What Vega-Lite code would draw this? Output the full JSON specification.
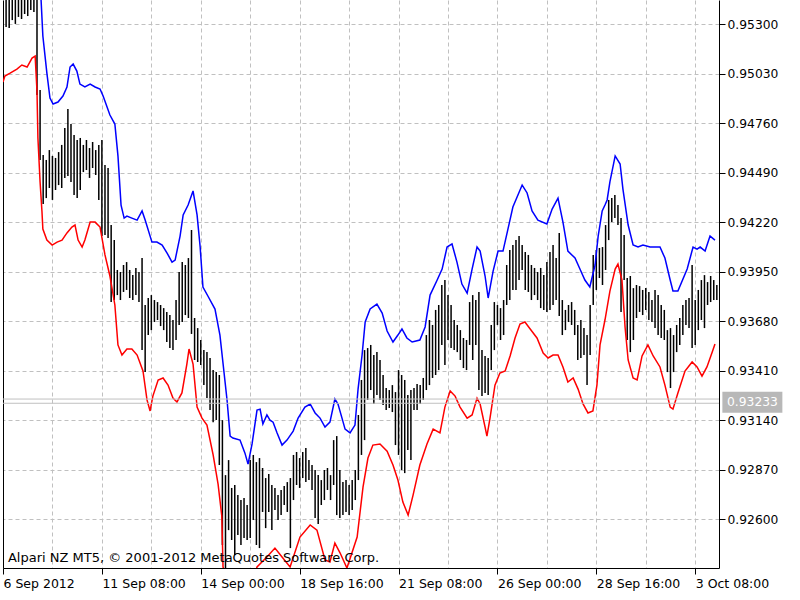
{
"$schema":"https://vega.github.io/schema/vega-lite/v6.json",
"width":716,"height":568,"autosize":"none",
"padding":{"left":3,"top":0,"right":81,"bottom":32},
"background":"white",
"config":{"view":{"stroke":null},"font":"DejaVu Sans"},
"datasets":{
"bars":[
{"k":1,"h":0.95487,"l":0.95285},{"k":2,"h":0.95460,"l":0.95280},{"k":3,"h":0.95476,"l":0.95323},{"k":4,"h":0.95449,"l":0.95302},{"k":5,"h":0.95465,"l":0.95340},{"k":6,"h":0.95454,"l":0.95329},{"k":7,"h":0.95487,"l":0.95356},{"k":8,"h":0.95476,"l":0.95345},{"k":9,"h":0.95498,"l":0.95378},{"k":10,"h":0.95514,"l":0.95367},
{"k":11,"h":0.95460,"l":0.94914},{"k":12,"h":0.94942,"l":0.94560},{"k":13,"h":0.94587,"l":0.94320},{"k":14,"h":0.94560,"l":0.94352},{"k":15,"h":0.94614,"l":0.94407},{"k":16,"h":0.94582,"l":0.94342},{"k":17,"h":0.94571,"l":0.94396},{"k":18,"h":0.94603,"l":0.94423},{"k":19,"h":0.94642,"l":0.94407},{"k":20,"h":0.94734,"l":0.94462},
{"k":21,"h":0.94838,"l":0.94472},{"k":22,"h":0.94756,"l":0.94440},{"k":23,"h":0.94696,"l":0.94369},{"k":24,"h":0.94669,"l":0.94352},{"k":25,"h":0.94680,"l":0.94396},{"k":26,"h":0.94642,"l":0.94494},{"k":27,"h":0.94669,"l":0.94505},{"k":28,"h":0.94625,"l":0.94462},{"k":29,"h":0.94658,"l":0.94516},{"k":30,"h":0.94614,"l":0.94478},
{"k":31,"h":0.94642,"l":0.94342},{"k":32,"h":0.94669,"l":0.94145},{"k":33,"h":0.94532,"l":0.94151},{"k":34,"h":0.94516,"l":0.94134},{"k":35,"h":0.94205,"l":0.93785},{"k":36,"h":0.94123,"l":0.93796},{"k":37,"h":0.93960,"l":0.93823},{"k":38,"h":0.93949,"l":0.93796},{"k":39,"h":0.93987,"l":0.93840},{"k":40,"h":0.94003,"l":0.93851},
{"k":41,"h":0.93960,"l":0.93807},{"k":42,"h":0.93932,"l":0.93796},{"k":43,"h":0.93971,"l":0.93823},{"k":44,"h":0.93949,"l":0.93785},{"k":45,"h":0.94025,"l":0.93523},{"k":46,"h":0.93769,"l":0.93403},{"k":47,"h":0.93807,"l":0.93605},{"k":48,"h":0.93823,"l":0.93632},{"k":49,"h":0.93796,"l":0.93676},{"k":50,"h":0.93785,"l":0.93687},
{"k":51,"h":0.93769,"l":0.93654},{"k":52,"h":0.93752,"l":0.93632},{"k":53,"h":0.93731,"l":0.93567},{"k":54,"h":0.93714,"l":0.93534},{"k":55,"h":0.93687,"l":0.93523},{"k":56,"h":0.93796,"l":0.93578},{"k":57,"h":0.93949,"l":0.93660},{"k":58,"h":0.94003,"l":0.93676},{"k":59,"h":0.93987,"l":0.93714},{"k":60,"h":0.94025,"l":0.93698},
{"k":61,"h":0.94178,"l":0.93611},{"k":62,"h":0.93698,"l":0.93469},{"k":63,"h":0.93643,"l":0.93458},{"k":64,"h":0.93578,"l":0.93441},{"k":65,"h":0.93523,"l":0.93332},{"k":66,"h":0.93512,"l":0.93261},{"k":67,"h":0.93480,"l":0.93196},{"k":68,"h":0.93414,"l":0.93130},{"k":69,"h":0.93403,"l":0.93141},{"k":70,"h":0.93387,"l":0.92896},
{"k":71,"h":0.93141,"l":0.92460},{"k":72,"h":0.92841,"l":0.92323},{"k":73,"h":0.92923,"l":0.92541},{"k":74,"h":0.92771,"l":0.92487},{"k":75,"h":0.92787,"l":0.92405},{"k":76,"h":0.92732,"l":0.92514},{"k":77,"h":0.92705,"l":0.92460},{"k":78,"h":0.92716,"l":0.92498},{"k":79,"h":0.92678,"l":0.92487},{"k":80,"h":0.92923,"l":0.92498},
{"k":81,"h":0.92951,"l":0.92596},{"k":82,"h":0.92912,"l":0.92460},{"k":83,"h":0.92934,"l":0.92443},{"k":84,"h":0.92880,"l":0.92640},{"k":85,"h":0.92825,"l":0.92552},{"k":86,"h":0.92847,"l":0.92640},{"k":87,"h":0.92787,"l":0.92541},{"k":88,"h":0.92771,"l":0.92651},{"k":89,"h":0.92732,"l":0.92596},{"k":90,"h":0.92760,"l":0.92623},
{"k":91,"h":0.92781,"l":0.92678},{"k":92,"h":0.92803,"l":0.92640},{"k":93,"h":0.92825,"l":0.92443},{"k":94,"h":0.92951,"l":0.92705},{"k":95,"h":0.92967,"l":0.92787},{"k":96,"h":0.92934,"l":0.92771},{"k":97,"h":0.92967,"l":0.92825},{"k":98,"h":0.92989,"l":0.92803},{"k":99,"h":0.92923,"l":0.92814},{"k":100,"h":0.92896,"l":0.92760},
{"k":101,"h":0.92869,"l":0.92607},{"k":102,"h":0.92841,"l":0.92574},{"k":103,"h":0.92814,"l":0.92678},{"k":104,"h":0.92869,"l":0.92705},{"k":105,"h":0.92880,"l":0.92760},{"k":106,"h":0.92841,"l":0.92705},{"k":107,"h":0.93032,"l":0.92787},{"k":108,"h":0.93054,"l":0.92623},{"k":109,"h":0.92869,"l":0.92607},{"k":110,"h":0.92803,"l":0.92623},
{"k":111,"h":0.92814,"l":0.92640},{"k":112,"h":0.92787,"l":0.92623},{"k":113,"h":0.92814,"l":0.92651},{"k":114,"h":0.92869,"l":0.92705},{"k":115,"h":0.93169,"l":0.92814},{"k":116,"h":0.93360,"l":0.92951},{"k":117,"h":0.93523,"l":0.93032},{"k":118,"h":0.93534,"l":0.93251},{"k":119,"h":0.93551,"l":0.93305},{"k":120,"h":0.93496,"l":0.93229},
{"k":121,"h":0.93512,"l":0.93278},{"k":122,"h":0.93469,"l":0.93251},{"k":123,"h":0.93387,"l":0.93223},{"k":124,"h":0.93316,"l":0.93196},{"k":125,"h":0.93305,"l":0.93207},{"k":126,"h":0.93332,"l":0.93185},{"k":127,"h":0.93294,"l":0.93005},{"k":128,"h":0.93414,"l":0.92951},{"k":129,"h":0.93387,"l":0.92869},{"k":130,"h":0.93360,"l":0.92852},
{"k":131,"h":0.93278,"l":0.92978},{"k":132,"h":0.93305,"l":0.92923},{"k":133,"h":0.93316,"l":0.93196},{"k":134,"h":0.93338,"l":0.93196},{"k":135,"h":0.93332,"l":0.93229},{"k":136,"h":0.93371,"l":0.93251},{"k":137,"h":0.93605,"l":0.93305},{"k":138,"h":0.93687,"l":0.93332},{"k":139,"h":0.93660,"l":0.93371},{"k":140,"h":0.93742,"l":0.93387},
{"k":141,"h":0.93769,"l":0.93414},{"k":142,"h":0.93878,"l":0.93551},{"k":143,"h":0.93905,"l":0.93441},{"k":144,"h":0.93823,"l":0.93578},{"k":145,"h":0.93769,"l":0.93534},{"k":146,"h":0.93687,"l":0.93523},{"k":147,"h":0.93660,"l":0.93512},{"k":148,"h":0.93632,"l":0.93469},{"k":149,"h":0.93589,"l":0.93425},{"k":150,"h":0.93578,"l":0.93414},
{"k":151,"h":0.93785,"l":0.93551},{"k":152,"h":0.93823,"l":0.93469},{"k":153,"h":0.93796,"l":0.93551},{"k":154,"h":0.93840,"l":0.93305},{"k":155,"h":0.93523,"l":0.93272},{"k":156,"h":0.93491,"l":0.93289},{"k":157,"h":0.93480,"l":0.93278},{"k":158,"h":0.93660,"l":0.93414},{"k":159,"h":0.93785,"l":0.93523},{"k":160,"h":0.93769,"l":0.93660},
{"k":161,"h":0.93752,"l":0.93578},{"k":162,"h":0.93796,"l":0.93605},{"k":163,"h":0.93987,"l":0.93769},{"k":164,"h":0.94069,"l":0.93796},{"k":165,"h":0.94096,"l":0.93851},{"k":166,"h":0.94123,"l":0.93851},{"k":167,"h":0.94145,"l":0.93905},{"k":168,"h":0.94096,"l":0.93960},{"k":169,"h":0.94058,"l":0.93851},{"k":170,"h":0.94042,"l":0.93840},
{"k":171,"h":0.93987,"l":0.93796},{"k":172,"h":0.93971,"l":0.93823},{"k":173,"h":0.93949,"l":0.93796},{"k":174,"h":0.93971,"l":0.93752},{"k":175,"h":0.93932,"l":0.93742},{"k":176,"h":0.94003,"l":0.93731},{"k":177,"h":0.94058,"l":0.93742},{"k":178,"h":0.94096,"l":0.93769},{"k":179,"h":0.94025,"l":0.93796},{"k":180,"h":0.94162,"l":0.93709},
{"k":181,"h":0.93796,"l":0.93605},{"k":182,"h":0.93742,"l":0.93632},{"k":183,"h":0.93769,"l":0.93676},{"k":184,"h":0.93785,"l":0.93660},{"k":185,"h":0.93742,"l":0.93605},{"k":186,"h":0.93660,"l":0.93469},{"k":187,"h":0.93687,"l":0.93480},{"k":188,"h":0.93643,"l":0.93496},{"k":189,"h":0.93605,"l":0.93332},{"k":190,"h":0.93769,"l":0.93496},
{"k":191,"h":0.94042,"l":0.93769},{"k":192,"h":0.94069,"l":0.93851},{"k":193,"h":0.94080,"l":0.93916},{"k":194,"h":0.94085,"l":0.93878},{"k":195,"h":0.94205,"l":0.93960},{"k":196,"h":0.94342,"l":0.94123},{"k":197,"h":0.94352,"l":0.94221},{"k":198,"h":0.94369,"l":0.94243},{"k":199,"h":0.94314,"l":0.94205},{"k":200,"h":0.94243,"l":0.93731},
{"k":201,"h":0.94151,"l":0.93905},{"k":202,"h":0.93916,"l":0.93578},{"k":203,"h":0.93927,"l":0.93512},{"k":204,"h":0.93861,"l":0.93578},{"k":205,"h":0.93878,"l":0.93698},{"k":206,"h":0.93872,"l":0.93731},{"k":207,"h":0.93851,"l":0.93714},{"k":208,"h":0.93861,"l":0.93742},{"k":209,"h":0.93840,"l":0.93687},{"k":210,"h":0.93796,"l":0.93676},
{"k":211,"h":0.93851,"l":0.93643},{"k":212,"h":0.93823,"l":0.93605},{"k":213,"h":0.93769,"l":0.93589},{"k":214,"h":0.93742,"l":0.93578},{"k":215,"h":0.93632,"l":0.93403},{"k":216,"h":0.93643,"l":0.93316},{"k":217,"h":0.93605,"l":0.93403},{"k":218,"h":0.93660,"l":0.93512},{"k":219,"h":0.93698,"l":0.93551},{"k":220,"h":0.93769,"l":0.93605},
{"k":221,"h":0.93796,"l":0.93660},{"k":222,"h":0.93807,"l":0.93643},{"k":223,"h":0.93987,"l":0.93534},{"k":224,"h":0.93796,"l":0.93551},{"k":225,"h":0.93851,"l":0.93632},{"k":226,"h":0.93905,"l":0.93687},{"k":227,"h":0.93932,"l":0.93643},{"k":228,"h":0.93894,"l":0.93769},{"k":229,"h":0.93927,"l":0.93785},{"k":230,"h":0.93905,"l":0.93796},{"k":231,"h":0.93878,"l":0.93796}
],
"upper":[
{"k":12.0,"p":0.95542},{"k":12.9,"p":0.95236},{"k":14.2,"p":0.95034},{"k":15.2,"p":0.94898},{"k":16.2,"p":0.94865},{"k":17.8,"p":0.94876},{"k":19.4,"p":0.94909},{"k":20.7,"p":0.94958},{"k":21.7,"p":0.95067},{"k":22.7,"p":0.95083},{"k":23.9,"p":0.95045},{"k":24.9,"p":0.94974},{"k":26.5,"p":0.94958},{"k":28.2,"p":0.94974},{"k":29.8,"p":0.94958},{"k":31.4,"p":0.94947},{"k":32.4,"p":0.94909},{"k":34.6,"p":0.94805},{"k":36.2,"p":0.94756},{"k":37.2,"p":0.94582},{"k":38.2,"p":0.94314},{"k":39.2,"p":0.94243},{"k":40.1,"p":0.94254},{"k":41.7,"p":0.94243},{"k":43.4,"p":0.94232},{"k":45.0,"p":0.94282},{"k":46.0,"p":0.94232},{"k":48.2,"p":0.94112},{"k":49.8,"p":0.94112},{"k":51.5,"p":0.94096},{"k":53.1,"p":0.94052},{"k":54.7,"p":0.94003},{"k":55.7,"p":0.94014},{"k":57.3,"p":0.94145},{"k":58.3,"p":0.94260},{"k":59.9,"p":0.94314},{"k":61.5,"p":0.94391},{"k":62.8,"p":0.94260},{"k":63.8,"p":0.94085},{"k":64.7,"p":0.93867},{"k":66.3,"p":0.93818},{"k":68.6,"p":0.93747},{"k":70.2,"p":0.93605},{"k":72.5,"p":0.93251},{"k":73.5,"p":0.93054},{"k":74.4,"p":0.93043},{"k":76.7,"p":0.93032},{"k":78.3,"p":0.92961},{"k":79.3,"p":0.92901},{"k":80.6,"p":0.93011},{"k":82.2,"p":0.93196},{"k":83.2,"p":0.93201},{"k":84.1,"p":0.93120},{"k":85.4,"p":0.93169},{"k":86.4,"p":0.93141},{"k":87.4,"p":0.93130},{"k":88.7,"p":0.93071},{"k":90.3,"p":0.93005},{"k":91.9,"p":0.93032},{"k":93.9,"p":0.93081},{"k":95.5,"p":0.93152},{"k":97.7,"p":0.93212},{"k":99.4,"p":0.93229},{"k":101.0,"p":0.93180},{"k":102.6,"p":0.93152},{"k":104.2,"p":0.93103},{"k":105.8,"p":0.93130},{"k":107.4,"p":0.93256},{"k":108.4,"p":0.93229},{"k":109.7,"p":0.93152},{"k":110.7,"p":0.93092},{"k":112.3,"p":0.93071},{"k":113.9,"p":0.93114},{"k":114.9,"p":0.93310},{"k":116.2,"p":0.93496},{"k":117.2,"p":0.93676},{"k":118.8,"p":0.93747},{"k":121.0,"p":0.93774},{"k":122.7,"p":0.93725},{"k":124.3,"p":0.93627},{"k":126.2,"p":0.93567},{"k":127.8,"p":0.93605},{"k":129.1,"p":0.93638},{"k":130.7,"p":0.93589},{"k":132.4,"p":0.93567},{"k":134.9,"p":0.93578},{"k":136.6,"p":0.93649},{"k":138.2,"p":0.93823},{"k":140.5,"p":0.93905},{"k":142.1,"p":0.93965},{"k":143.7,"p":0.94085},{"k":145.3,"p":0.94102},{"k":146.9,"p":0.94003},{"k":148.5,"p":0.93883},{"k":150.2,"p":0.93834},{"k":151.8,"p":0.93965},{"k":153.4,"p":0.94085},{"k":154.4,"p":0.94063},{"k":156.0,"p":0.93927},{"k":157.0,"p":0.93807},{"k":158.6,"p":0.93954},{"k":160.2,"p":0.94063},{"k":161.8,"p":0.94063},{"k":163.4,"p":0.94183},{"k":165.0,"p":0.94303},{"k":168.0,"p":0.94423},{"k":169.6,"p":0.94380},{"k":171.2,"p":0.94282},{"k":173.1,"p":0.94232},{"k":176.0,"p":0.94211},{"k":177.7,"p":0.94292},{"k":179.6,"p":0.94352},{"k":181.2,"p":0.94221},{"k":182.8,"p":0.94063},{"k":185.1,"p":0.94025},{"k":186.7,"p":0.93965},{"k":188.3,"p":0.93905},{"k":189.9,"p":0.93867},{"k":191.6,"p":0.93987},{"k":192.6,"p":0.94145},{"k":193.9,"p":0.94282},{"k":194.8,"p":0.94314},{"k":195.5,"p":0.94342},{"k":196.4,"p":0.94440},{"k":198.1,"p":0.94582},{"k":199.7,"p":0.94538},{"k":200.6,"p":0.94402},{"k":202.3,"p":0.94205},{"k":203.9,"p":0.94096},{"k":205.5,"p":0.94085},{"k":207.1,"p":0.94096},{"k":209.4,"p":0.94085},{"k":212.6,"p":0.94085},{"k":214.2,"p":0.94025},{"k":215.9,"p":0.93905},{"k":216.8,"p":0.93845},{"k":218.4,"p":0.93845},{"k":221.4,"p":0.93965},{"k":223.3,"p":0.94085},{"k":224.6,"p":0.94074},{"k":225.6,"p":0.94085},{"k":227.2,"p":0.94063},{"k":228.8,"p":0.94145},{"k":230.4,"p":0.94123}
],
"lower":[
{"k":0.0,"p":0.94985},{"k":0.6,"p":0.95018},{"k":2.3,"p":0.95034},{"k":4.5,"p":0.95056},{"k":6.1,"p":0.95078},{"k":7.8,"p":0.95067},{"k":9.4,"p":0.95116},{"k":10.4,"p":0.95127},{"k":11.0,"p":0.94936},{"k":11.3,"p":0.94680},{"k":12.0,"p":0.94440},{"k":12.6,"p":0.94282},{"k":12.9,"p":0.94183},{"k":14.2,"p":0.94123},{"k":15.9,"p":0.94096},{"k":17.5,"p":0.94112},{"k":19.1,"p":0.94123},{"k":20.7,"p":0.94162},{"k":22.3,"p":0.94194},{"k":23.3,"p":0.94205},{"k":24.3,"p":0.94123},{"k":25.6,"p":0.94085},{"k":26.5,"p":0.94123},{"k":28.2,"p":0.94221},{"k":29.8,"p":0.94221},{"k":31.4,"p":0.94194},{"k":33.0,"p":0.94042},{"k":34.6,"p":0.93927},{"k":36.2,"p":0.93769},{"k":37.2,"p":0.93551},{"k":38.5,"p":0.93496},{"k":40.1,"p":0.93529},{"k":41.7,"p":0.93529},{"k":43.4,"p":0.93496},{"k":45.3,"p":0.93409},{"k":46.6,"p":0.93251},{"k":47.6,"p":0.93191},{"k":48.5,"p":0.93272},{"k":50.2,"p":0.93360},{"k":51.8,"p":0.93371},{"k":53.4,"p":0.93332},{"k":55.0,"p":0.93261},{"k":56.3,"p":0.93240},{"k":57.9,"p":0.93289},{"k":59.5,"p":0.93447},{"k":60.2,"p":0.93529},{"k":61.5,"p":0.93447},{"k":62.8,"p":0.93212},{"k":64.4,"p":0.93152},{"k":66.0,"p":0.93114},{"k":68.0,"p":0.92951},{"k":69.6,"p":0.92792},{"k":70.8,"p":0.92618},{"k":71.2,"p":0.92340},{"k":73.5,"p":0.92214},{"k":79.9,"p":0.92214},{"k":82.2,"p":0.92340},{"k":85.4,"p":0.92394},{"k":88.0,"p":0.92443},{"k":90.3,"p":0.92394},{"k":92.9,"p":0.92340},{"k":96.1,"p":0.92503},{"k":99.4,"p":0.92569},{"k":101.6,"p":0.92541},{"k":104.2,"p":0.92378},{"k":105.8,"p":0.92367},{"k":107.4,"p":0.92470},{"k":109.1,"p":0.92416},{"k":111.3,"p":0.92334},{"k":114.6,"p":0.92503},{"k":116.5,"p":0.92776},{"k":118.1,"p":0.92934},{"k":119.7,"p":0.93005},{"k":122.0,"p":0.93011},{"k":124.3,"p":0.92972},{"k":126.2,"p":0.92896},{"k":127.8,"p":0.92814},{"k":129.4,"p":0.92694},{"k":131.1,"p":0.92623},{"k":132.7,"p":0.92732},{"k":134.9,"p":0.92896},{"k":137.2,"p":0.93011},{"k":139.2,"p":0.93092},{"k":141.4,"p":0.93071},{"k":143.0,"p":0.93212},{"k":144.7,"p":0.93300},{"k":146.3,"p":0.93272},{"k":147.9,"p":0.93212},{"k":150.2,"p":0.93152},{"k":151.8,"p":0.93169},{"k":153.4,"p":0.93261},{"k":154.4,"p":0.93229},{"k":156.0,"p":0.93103},{"k":156.6,"p":0.93054},{"k":157.6,"p":0.93152},{"k":159.2,"p":0.93332},{"k":160.8,"p":0.93398},{"k":162.5,"p":0.93409},{"k":164.1,"p":0.93491},{"k":165.7,"p":0.93589},{"k":167.3,"p":0.93665},{"k":168.9,"p":0.93676},{"k":170.6,"p":0.93638},{"k":172.8,"p":0.93589},{"k":174.8,"p":0.93507},{"k":176.4,"p":0.93480},{"k":178.0,"p":0.93496},{"k":179.6,"p":0.93496},{"k":181.2,"p":0.93431},{"k":182.8,"p":0.93349},{"k":184.5,"p":0.93371},{"k":186.1,"p":0.93310},{"k":187.7,"p":0.93229},{"k":189.3,"p":0.93180},{"k":190.9,"p":0.93191},{"k":192.2,"p":0.93332},{"k":193.2,"p":0.93551},{"k":194.8,"p":0.93687},{"k":196.4,"p":0.93845},{"k":198.1,"p":0.93965},{"k":199.0,"p":0.93992},{"k":200.3,"p":0.93905},{"k":201.3,"p":0.93649},{"k":202.3,"p":0.93469},{"k":203.9,"p":0.93371},{"k":205.2,"p":0.93360},{"k":206.8,"p":0.93491},{"k":208.7,"p":0.93551},{"k":210.4,"p":0.93491},{"k":212.6,"p":0.93431},{"k":214.2,"p":0.93332},{"k":215.9,"p":0.93212},{"k":216.8,"p":0.93201},{"k":218.4,"p":0.93289},{"k":220.7,"p":0.93409},{"k":223.0,"p":0.93458},{"k":224.6,"p":0.93431},{"k":226.2,"p":0.93381},{"k":227.8,"p":0.93431},{"k":229.4,"p":0.93507},{"k":230.4,"p":0.93556}
],
"price":[{"p":0.93233,"label":"0.93233"},{"p":0.93256,"label":""}],
"note":[{"t":"Alpari NZ MT5, © 2001-2012 MetaQuotes Software Corp."}]
},
"layer":[
{"data":{"name":"bars"},"mark":{"type":"rule","color":"black","strokeWidth":1.5,"clip":true},
 "encoding":{
  "x":{"field":"k","type":"quantitative","scale":{"domain":[0,231.7],"nice":false,"zero":false},
   "axis":{"orient":"bottom","values":[0,32,64,96,128,160,192,224],"title":null,"grid":true,"gridDash":[4,3],"gridColor":"#c0c0c0","domainColor":"black","tickColor":"black","tickSize":6,"labelAlign":"left","labelPadding":3,"labelFont":"DejaVu Sans","labelFontSize":12.5,"labelColor":"black","labelOverlap":false,"labelFlush":false,"labelBound":false,
   "labelExpr":"['6 Sep 2012','11 Sep 08:00','14 Sep 00:00','18 Sep 16:00','21 Sep 08:00','26 Sep 00:00','28 Sep 16:00','3 Oct 08:00'][round(datum.value/32)]"}},
  "y":{"field":"h","type":"quantitative","scale":{"domain":[0.923344,0.954325],"nice":false,"zero":false},
   "axis":{"orient":"right","values":[0.926,0.9287,0.9314,0.9341,0.9368,0.9395,0.9422,0.9449,0.9476,0.9503,0.953],"format":".5f","title":null,"grid":true,"gridDash":[4,3],"gridColor":"#c0c0c0","domainColor":"black","tickColor":"black","tickSize":6,"labelPadding":2,"labelFont":"DejaVu Sans","labelFontSize":12.3,"labelColor":"black","labelOverlap":false,"labelFlush":false,"labelBound":false}},
  "y2":{"field":"l"}}},
{"data":{"name":"upper"},"mark":{"type":"line","color":"#0000ff","strokeWidth":1.5,"clip":true},
 "encoding":{
  "x":{"field":"k","type":"quantitative","scale":{"domain":[0,231.7],"nice":false,"zero":false},
   "axis":{"orient":"bottom","values":[16,48,80,112,144,176,208],"title":null,"grid":true,"gridDash":[4,3],"gridColor":"#c0c0c0","ticks":false,"labels":false,"domain":false}},
  "y":{"field":"p","type":"quantitative","scale":{"domain":[0.923344,0.954325],"nice":false,"zero":false},
   "axis":{"orient":"left","title":null,"grid":false,"ticks":false,"labels":false,"domain":true,"domainColor":"black"}}}},
{"data":{"name":"lower"},"mark":{"type":"line","color":"#ff0000","strokeWidth":1.5,"clip":true},
 "encoding":{
  "x":{"field":"k","type":"quantitative","scale":{"domain":[0,231.7],"nice":false,"zero":false},"axis":null},
  "y":{"field":"p","type":"quantitative","scale":{"domain":[0.923344,0.954325],"nice":false,"zero":false},"axis":null}}},
{"data":{"name":"price"},"mark":{"type":"rule","color":"#c0c0c0","strokeWidth":1},
 "encoding":{
  "y":{"field":"p","type":"quantitative","scale":{"domain":[0.923344,0.954325],"nice":false,"zero":false},"axis":null}}},
{"data":{"name":"price"},"transform":[{"filter":"datum.label != ''"}],
 "mark":{"type":"point","shape":"M-1,-0.35H1V0.35H-1Z","size":3600,"filled":true,"color":"#b8b8b8","opacity":1,"clip":false,"yOffset":-1},
 "encoding":{
  "x":{"datum":242.5,"type":"quantitative","scale":{"domain":[0,231.7],"nice":false,"zero":false},"axis":null},
  "y":{"field":"p","type":"quantitative","scale":{"domain":[0.923344,0.954325],"nice":false,"zero":false},"axis":null}}},
{"data":{"name":"price"},"transform":[{"filter":"datum.label != ''"}],
 "mark":{"type":"text","color":"white","font":"DejaVu Sans","fontSize":12.3,"align":"left","baseline":"middle","clip":false,"yOffset":-1},
 "encoding":{
  "x":{"datum":234.3,"type":"quantitative","scale":{"domain":[0,231.7],"nice":false,"zero":false},"axis":null},
  "y":{"field":"p","type":"quantitative","scale":{"domain":[0.923344,0.954325],"nice":false,"zero":false},"axis":null},
  "text":{"field":"label"}}},
{"data":{"name":"note"},
 "mark":{"type":"text","color":"black","font":"DejaVu Sans","fontSize":13,"align":"left","baseline":"alphabetic","clip":false},
 "encoding":{
  "x":{"datum":1.6,"type":"quantitative","scale":{"domain":[0,231.7],"nice":false,"zero":false},"axis":null},
  "y":{"datum":0.92368,"type":"quantitative","scale":{"domain":[0.923344,0.954325],"nice":false,"zero":false},"axis":null},
  "text":{"field":"t"}}}
],
"resolve":{"axis":{"x":"independent","y":"independent"}}
}
